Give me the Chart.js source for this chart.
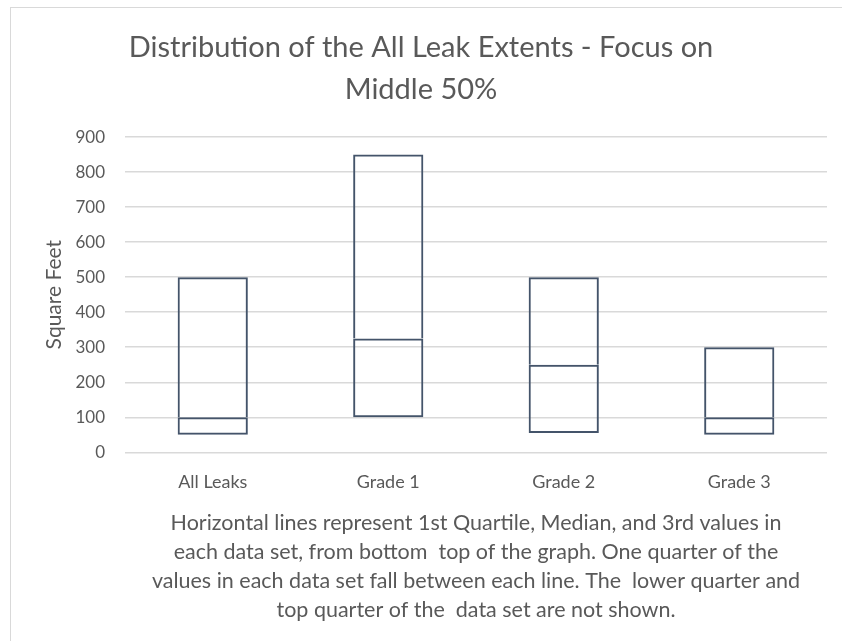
<!DOCTYPE html>
<html>
<head>
<meta charset="utf-8">
<script src="https://cdn.jsdelivr.net/npm/chart.js@4/dist/chart.umd.min.js"></script>
<style>
  html, body { margin: 0; padding: 0; background: #fff; overflow: hidden; }
  #frame { position: absolute; left: 10px; top: 7px; width: 900px; height: 700px; border: 1px solid #d9d9d9; }
  #wrap { position: absolute; left: 0; top: 0; width: 842px; height: 641px; }
</style>
</head>
<body>
<div id="frame"></div>
<div id="wrap"><canvas id="leaks"></canvas></div>
<script>
const categories = ['All Leaks', 'Grade 1', 'Grade 2', 'Grade 3']
const firstQuartile = [50, 100, 55, 50]
const median = [100, 325, 250, 100]
const thirdQuartile = [500, 850, 500, 300]
const yTicks = [0, 100, 200, 300, 400, 500, 600, 700, 800, 900]

const footnote = [
    'Horizontal lines represent 1st Quartile, Median, and 3rd values in',
    'each data set, from bottom  top of the graph. One quarter of the',
    'values in each data set fall between each line. The  lower quarter and',
    'top quarter of the  data set are not shown.'
]

const lineColor = '#44546a'
const textColor = '#595959'
const font = 'Lato, "Open Sans", sans-serif'

// one half of a box: a floating bar from low to high
function boxSet(name, lows, highs, skip) {
    return {
        label: name,
        data: lows.map((v, i) => [v, highs[i]]),
        backgroundColor: 'rgba(255,255,255,0)',
        borderColor: lineColor,
        borderWidth: 2,
        borderSkipped: skip,
        grouped: false,
        categoryPercentage: 1,
        barPercentage: 0.4
    }
}

const chart = new Chart('leaks', {
    type: 'bar',
    data: {
        labels: categories,
        datasets: [
            boxSet('Lower', firstQuartile, median, false),
            boxSet('Upper', median, thirdQuartile, 'bottom')
        ]
    },
    options: {
        responsive: true,
        maintainAspectRatio: false,
        animation: false,
        layout: { padding: { left: 15, right: 15, top: 27, bottom: 16 } },
        plugins: {
            legend: { display: false },
            tooltip: { enabled: false },
            title: {
                display: true,
                text: ['Distribution of the All Leak Extents - Focus on', 'Middle 50%'],
                color: textColor,
                font: { family: font, size: 29, weight: 'normal', lineHeight: 1.45 },
                padding: { top: 0, bottom: 26 }
            }
        },
        scales: {
            x: {
                afterFit: axis => { axis.height -= 3 },
                grid: { display: false, drawTicks: false },
                border: { display: false },
                ticks: { color: textColor, font: { family: font, size: 18 }, padding: 19 },
                title: {
                    display: true,
                    text: footnote,
                    color: textColor,
                    font: { family: font, size: 21.5, lineHeight: 1.35 },
                    padding: { top: 0, bottom: 0 }
                }
            },
            y: {
                min: 0,
                max: 900,
                afterBuildTicks: axis => { axis.ticks = yTicks.map(v => ({ value: v })) },
                afterFit: axis => { axis.width = 110 },
                grid: { color: '#d9d9d9', lineWidth: 1.5, drawTicks: false },
                border: { display: false },
                ticks: { color: textColor, font: { family: font, size: 17 }, padding: 20 },
                title: {
                    display: true,
                    text: 'Square Feet',
                    color: textColor,
                    font: { family: font, size: 21 },
                    padding: { top: 27, bottom: 0 }
                }
            }
        }
    }
})
</script>
</body>
</html>
